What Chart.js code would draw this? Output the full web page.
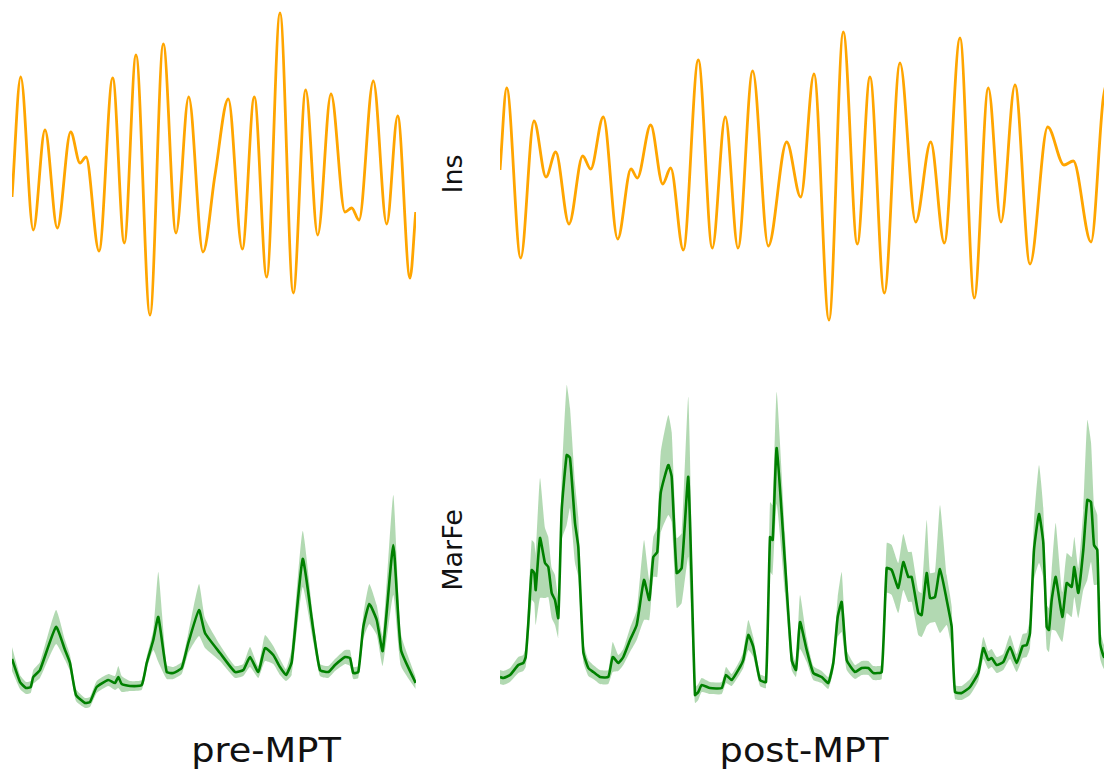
<!DOCTYPE html>
<html>
<head>
<meta charset="utf-8">
<script src="https://cdn.jsdelivr.net/npm/chart.js@4.4.0/dist/chart.umd.min.js"></script>
<style>
  html, body { margin: 0; padding: 0; background: #fff; }
  body { width: 1104px; height: 777px; overflow: hidden; position: relative; font-family: "DejaVu Sans", sans-serif; color: #111; }
  .panel { position: absolute; }
  .vlabel { position: absolute; font-size: 27px; line-height: 1; white-space: nowrap; transform: translate(-50%, -50%) rotate(-90deg); }
  .xlabel { position: absolute; font-size: 34px; line-height: 1; white-space: nowrap; transform: translateX(-50%) scaleX(1.08); }
</style>
</head>
<body>
<div class="panel" style="left:12px;top:0;width:404px;height:330px"><canvas id="insPre"></canvas></div>
<div class="panel" style="left:500px;top:0;width:620px;height:330px"><canvas id="insPost"></canvas></div>
<div class="panel" style="left:12px;top:370px;width:404px;height:340px"><canvas id="marfePre"></canvas></div>
<div class="panel" style="left:500px;top:370px;width:620px;height:340px"><canvas id="marfePost"></canvas></div>
<div class="vlabel" style="left:452px;top:174px">Ins</div>
<div class="vlabel" style="left:452px;top:550px">MarFe</div>
<div class="xlabel" style="left:266px;top:733px">pre-MPT</div>
<div class="xlabel" style="left:804px;top:733px">post-MPT</div>
<script>
// Ins (orange), pre-MPT window
const insPreT = [0, 8.7, 21.3, 33, 45.3, 58.7, 68, 74, 87, 100.7, 112.3, 124, 138, 151.3, 164, 176.7, 191, 203, 216.3, 230.3,
  242.3, 254.7, 268, 281.3, 293.7, 305.7, 319, 333, 339.7, 347, 361.3, 374.7, 385.7, 398, 403.7];
const insPreV = [-0.27, 0.93, -0.60, 0.40, -0.58, 0.38, 0.07, 0.13, -0.81, 0.92, -0.73, 1.15, -1.45, 1.26, -0.63, 0.73, -0.82, -0.05, 0.71, -0.79,
  0.73, -1.07, 1.57, -1.23, 0.80, -0.65, 0.76, -0.42, -0.38, -0.50, 0.89, -0.54, 0.54, -1.08, -0.42];

// Ins, post-MPT window
const insPostT = [0, 6.7, 20.7, 34, 46, 55.7, 69, 82.7, 90.7, 103.3, 117.7, 131, 137.3, 150.7, 162.7, 170.7, 183.3, 198.3, 212.3, 225.3,
  238, 252.7, 268.3, 286.7, 300.7, 314, 329, 343.3, 357.3, 370, 384.3, 400, 415.7, 430.7, 444.3, 460, 474.3, 488.3, 501, 515,
  530, 547.7, 564, 573.3, 591, 603.3, 612];
const insPostV = [0.00, 0.82, -0.88, 0.49, -0.07, 0.18, -0.54, 0.14, 0.01, 0.53, -0.69, 0.01, -0.08, 0.45, -0.14, 0.02, -0.80, 1.10, -0.78, 0.53,
  -0.78, 0.99, -0.76, 0.28, -0.27, 0.96, -1.50, 1.38, -0.74, 0.93, -1.23, 1.07, -0.52, 0.28, -0.73, 1.32, -1.28, 0.82, -0.52, 0.85,
  -0.94, 0.43, 0.05, 0.09, -0.72, 0.72, 1.00];

// MarFe (green) mean and spread, pre-MPT
const marfePreT = [0, 8, 14, 18.7, 21.3, 28, 44, 53, 58, 64, 73, 78, 84.7, 96.3, 103, 106.3, 109.7, 118, 129.7, 134.7,
  141.3, 146.3, 154.7, 161.3, 169.7, 176.3, 187, 193, 208, 223, 231.3, 238, 246.3, 253, 261.3, 268, 274, 279.7, 290.7, 301.3,
  308, 316.3, 323, 333, 338, 341.3, 346.3, 351.3, 357.3, 364.7, 370.7, 381.3, 389, 403.7];
const marfePreV = [5.1, 2.8, 2.2, 2.3, 3.3, 4.0, 8.3, 6.0, 4.7, 1.5, 0.7, 0.8, 2.3, 3.0, 2.7, 3.3, 2.6, 2.4, 2.5, 4.7,
  7.0, 9.3, 3.8, 3.7, 4.2, 6.7, 10.0, 7.7, 5.7, 3.8, 4.0, 5.3, 3.8, 6.2, 5.5, 4.3, 3.5, 4.8, 15.1, 8.0,
  4.0, 3.8, 4.5, 5.3, 5.2, 3.7, 3.8, 8.3, 10.6, 9.0, 5.9, 16.5, 6.0, 2.7];
const marfePreSd = [1.2, 0.7, 0.6, 0.6, 0.7, 0.8, 1.7, 1.0, 0.8, 0.6, 0.5, 0.5, 0.6, 0.6, 0.7, 1.1, 0.8, 0.5, 0.5, 0.6,
  1.0, 4.5, 0.7, 0.6, 0.6, 1.0, 2.6, 1.5, 0.8, 0.6, 0.6, 1.0, 0.6, 1.3, 0.9, 0.8, 0.6, 1.3, 2.8, 1.2,
  0.6, 0.6, 0.6, 0.7, 0.8, 0.6, 0.6, 1.2, 2.0, 1.5, 1.5, 5.0, 1.6, 0.6];

// MarFe, post-MPT
const marfePostT = [0, 3.3, 10, 18.3, 23.3, 25.7, 28.3, 31.7, 34.3, 35.7,
  40, 45, 48.3, 51.7, 55, 58.3, 61.7, 66.7, 70, 75,
  78.3, 83.3, 88.3, 93.3, 100, 108.3, 112.7, 118.3, 123.3, 130,
  136.7, 144, 149.3, 153.3, 157.3, 160.7, 168.3, 171.7, 176.7, 181.7,
  188.3, 195, 198.3, 201.7, 210, 221.7, 226, 231.7, 240, 243.3,
  248.3, 253.3, 260, 266, 270, 272.7, 276.7, 285, 291.7, 296,
  300, 306.7, 313.3, 321.7, 328.3, 333.3, 337.7, 341.7, 346.7, 355,
  361.7, 368.3, 373.3, 381.7, 386.7, 391.7, 398.3, 403.3, 408.3, 411.7,
  418.3, 421.7, 426.7, 430, 435, 440, 446.7, 450, 451.7, 455,
  461.7, 470, 478.3, 483.3, 488.3, 491.7, 496.7, 503.3, 510, 516.7,
  522.7, 526.7, 530, 534, 539, 543.3, 546.7, 549, 551.7, 555.7,
  562.3, 566.7, 571.7, 574.3, 578.3, 583.3, 587.3, 591, 594, 597.3,
  600, 604, 612];
const marfePostV = [3.3, 3.2, 3.5, 4.5, 4.7, 5.3, 8.7, 14.0, 13.7, 12.0,
  17.2, 14.7, 14.3, 11.7, 11.0, 9.2, 20.0, 25.5, 25.2, 18.7,
  16.3, 5.8, 4.2, 3.8, 3.3, 3.3, 5.3, 4.7, 5.3, 7.0,
  8.5, 13.0, 11.0, 15.3, 15.8, 21.7, 24.5, 23.3, 13.7, 14.2,
  23.3, 1.5, 1.8, 2.5, 2.2, 2.2, 3.5, 3.0, 4.3, 5.0,
  7.5, 6.3, 3.0, 2.8, 17.3, 17.0, 26.2, 14.7, 5.0, 4.0,
  8.8, 6.0, 3.7, 3.3, 2.7, 4.7, 9.3, 10.8, 5.0, 3.8,
  4.2, 4.2, 3.7, 3.8, 14.2, 14.0, 12.2, 14.8, 13.3, 13.3,
  9.7, 9.5, 13.7, 11.2, 11.3, 14.1, 11.0, 9.3, 8.3, 1.8,
  1.7, 2.3, 3.7, 6.2, 5.0, 5.2, 4.5, 4.8, 6.3, 4.7,
  6.4, 6.5, 7.7, 16.0, 19.6, 16.7, 8.3, 8.0, 11.0, 13.3,
  9.3, 12.7, 12.3, 14.3, 11.7, 16.0, 21.0, 20.8, 16.5, 16.0,
  6.7, 5.3, 5.0];
const marfePostSd = [0.7, 0.7, 0.7, 0.8, 0.8, 1.0, 2.0, 3.0, 3.0, 3.5,
  6.0, 3.5, 3.0, 2.5, 2.5, 2.0, 3.0, 7.0, 5.0, 4.0,
  3.0, 1.0, 0.8, 0.7, 0.7, 0.7, 1.5, 0.8, 0.8, 1.2,
  1.5, 4.0, 2.0, 2.0, 2.5, 4.0, 5.0, 4.5, 3.5, 3.5,
  8.0, 0.8, 0.8, 0.7, 0.6, 0.6, 0.8, 0.6, 0.7, 0.8,
  1.5, 1.0, 0.6, 0.6, 3.5, 3.5, 5.6, 3.0, 1.0, 0.7,
  2.7, 1.2, 0.7, 0.6, 0.6, 0.8, 2.0, 3.0, 1.0, 0.7,
  0.7, 0.7, 0.7, 0.7, 2.5, 2.5, 2.5, 2.8, 2.5, 2.5,
  2.2, 2.2, 5.3, 2.5, 2.5, 6.4, 2.5, 2.2, 2.0, 0.7,
  0.7, 0.8, 0.8, 1.1, 0.9, 0.9, 0.8, 0.8, 1.2, 0.9,
  1.2, 1.2, 1.5, 3.0, 4.9, 3.5, 2.2, 2.2, 3.0, 5.4,
  2.5, 3.0, 3.0, 3.0, 2.5, 4.0, 8.0, 6.0, 4.0, 3.5,
  1.5, 1.2, 1.0];

const ORANGE = '#ffa500';
const GREEN = '#008000';
const BAND = 'rgba(0,128,0,0.3)';

function pts(xs, ys) {
  return xs.map((x, i) => ({x: x, y: ys[i]}));
}

function baseOptions(xmax, ymin, ymax) {
  return {
    responsive: true,
    maintainAspectRatio: false,
    animation: false,
    events: [],
    layout: {padding: 0},
    plugins: {legend: {display: false}, tooltip: {enabled: false}},
    scales: {
      x: {type: 'linear', min: 0, max: xmax, display: false},
      y: {min: ymin, max: ymax, display: false}
    }
  };
}

function insChart(id, xs, ys, xmax) {
  new Chart(document.getElementById(id), {
    type: 'line',
    data: {
      datasets: [{
        data: pts(xs, ys),
        borderColor: ORANGE,
        borderWidth: 2.8,
        pointRadius: 0,
        cubicInterpolationMode: 'monotone',
        fill: false,
        clip: false
      }]
    },
    options: baseOptions(xmax, -1.6, 1.7)
  });
}

function marfeChart(id, xs, ys, sd, xmax) {
  const hi = ys.map((v, i) => v + sd[i]);
  const lo = ys.map((v, i) => Math.max(0, v - sd[i]));
  new Chart(document.getElementById(id), {
    type: 'line',
    data: {
      datasets: [{
        data: pts(xs, hi),
        borderWidth: 0,
        pointRadius: 0,
        tension: 0.15,
        backgroundColor: BAND,
        fill: '+1',
        clip: false
      }, {
        data: pts(xs, lo),
        borderWidth: 0,
        pointRadius: 0,
        tension: 0.15,
        fill: false,
        clip: false
      }, {
        data: pts(xs, ys),
        borderColor: GREEN,
        borderWidth: 2.6,
        pointRadius: 0,
        tension: 0.15,
        fill: false,
        clip: false
      }]
    },
    options: baseOptions(xmax, 0, 34)
  });
}

insChart('insPre', insPreT, insPreV, 404);
insChart('insPost', insPostT, insPostV, 620);
marfeChart('marfePre', marfePreT, marfePreV, marfePreSd, 404);
marfeChart('marfePost', marfePostT, marfePostV, marfePostSd, 620);
</script>
</body>
</html>
